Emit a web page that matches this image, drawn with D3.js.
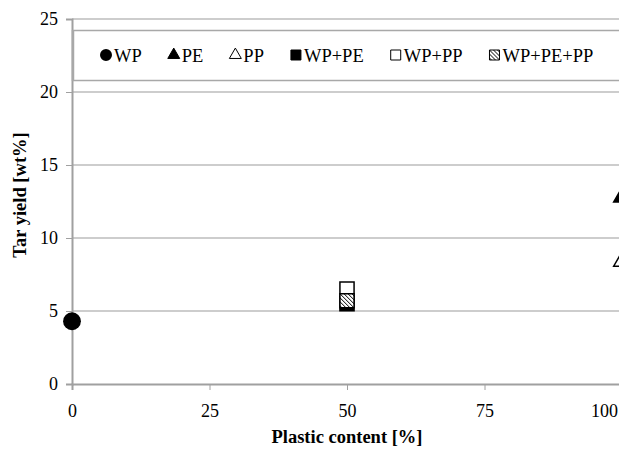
<!DOCTYPE html>
<html>
<head>
<meta charset="utf-8">
<script src="https://cdn.jsdelivr.net/npm/d3@7"></script>
<style>
  body { margin: 0; background: #fff; }
</style>
</head>
<body>
<div id="chart"></div>
<script>
// Data
const seriesNames = ["WP", "PE", "PP", "WP+PE", "WP+PP", "WP+PE+PP"];
const plasticContent = [0, 100, 100, 50, 50, 50];
const tarYield = [4.3, 12.8, 8.4, 5.5, 6.5, 5.7];
const xTicks = [0, 25, 50, 75, 100];
const yTicks = [0, 5, 10, 15, 20, 25];

const serif = "'Liberation Serif', 'Times New Roman', 'DejaVu Serif', serif";
const width = 619, height = 450;
const margin = { top: 19, right: -3, bottom: 66, left: 72 };
const innerW = width - margin.left - margin.right;
const innerH = height - margin.top - margin.bottom;

const svg = d3.select("#chart").append("svg")
    .attr("width", width)
    .attr("height", height)
    .style("font-family", serif);

// hatch pattern for WP+PE+PP
const defs = svg.append("defs");
defs.append("pattern")
    .attr("id", "hatch")
    .attr("patternUnits", "userSpaceOnUse")
    .attr("width", 4).attr("height", 4)
    .call(p => {
        p.append("rect").attr("width", 4).attr("height", 4).attr("fill", "#fff");
        p.append("path").attr("d", "M-1,-1 L5,5 M-1,3 L1,5 M3,-1 L5,1")
            .attr("stroke", "#000").attr("stroke-width", 1);
    });

const g = svg.append("g")
    .attr("transform", `translate(${margin.left},${margin.top})`);

const x = d3.scaleLinear().domain([0, 100]).range([0, innerW]);
const y = d3.scaleLinear().domain([0, 25]).range([innerH, 0]);

// gridlines
g.append("g")
    .selectAll("line")
    .data(yTicks.filter(d => d > 0))
    .enter().append("line")
    .attr("x1", 0).attr("x2", innerW)
    .attr("y1", d => y(d)).attr("y2", d => y(d))
    .attr("stroke", "#bdbdbd").attr("stroke-width", 1.5);

// axes
const yAxis = g.append("g")
    .call(d3.axisLeft(y).tickValues(yTicks).tickSize(6).tickPadding(8));
const xAxis = g.append("g")
    .attr("transform", `translate(0,${innerH})`)
    .call(d3.axisBottom(x).tickValues(xTicks).tickSize(6).tickPadding(14));
[xAxis, yAxis].forEach(a => {
    a.attr("font-family", serif);
    a.select(".domain").attr("stroke", "#a0a0a0").attr("stroke-width", 2);
    a.selectAll(".tick line").attr("stroke", "#a0a0a0").attr("stroke-width", 1);
    a.selectAll(".tick text")
        .style("font-family", serif)
        .attr("font-size", 18).attr("fill", "#000");
});
// last x label is pulled back inside the picture, as in the original
xAxis.selectAll(".tick text").filter(d => d === 100).attr("x", -18);

// axis titles
svg.append("text")
    .attr("x", margin.left + x(50))
    .attr("y", 443)
    .attr("text-anchor", "middle")
    .style("font-family", serif)
    .attr("font-size", 18.5).attr("font-weight", "bold")
    .text("Plastic content [%]");
svg.append("text")
    .attr("transform", `translate(26,195) rotate(-90)`)
    .attr("text-anchor", "middle")
    .style("font-family", serif)
    .attr("font-size", 18.5).attr("font-weight", "bold")
    .text("Tar yield [wt%]");

// marker styles per series
const shapes = [d3.symbolCircle, d3.symbolTriangle, d3.symbolTriangle,
                d3.symbolSquare, d3.symbolSquare, d3.symbolSquare];
const fills = ["#000", "#000", "#fff", "#000", "#fff", "url(#hatch)"];
const bigSize = [250, 120, 120, 200, 200, 200];
const smallSize = [113, 62, 62, 100, 100, 100];

// points
const points = seriesNames.map((name, i) => ({
    name, x: plasticContent[i], y: tarYield[i], i
}));
g.selectAll(".pt")
    .data(points)
    .enter().append("path")
    .attr("class", "pt")
    .attr("transform", d => `translate(${x(d.x)},${y(d.y)})`)
    .attr("d", d => d3.symbol().type(shapes[d.i]).size(bigSize[d.i])())
    .attr("fill", d => fills[d.i])
    .attr("stroke", "#000")
    .attr("stroke-width", d => d.i === 0 ? 0 : 1.5);

// legend
const legend = svg.append("g");
legend.append("rect")
    .attr("x", 73).attr("y", 30.5)
    .attr("width", 560).attr("height", 50)
    .attr("fill", "#fff")
    .attr("stroke", "#a8a8a8").attr("stroke-width", 1.5);
legend.append("line")
    .attr("x1", 73).attr("x2", 73).attr("y1", 30).attr("y2", 81)
    .attr("stroke", "#a8a8a8").attr("stroke-width", 2.5);

let lx = 100;
seriesNames.forEach((name, i) => {
    const item = legend.append("g");
    item.append("path")
        .attr("transform", `translate(${lx + 6},55)`)
        .attr("d", d3.symbol().type(shapes[i]).size(smallSize[i])())
        .attr("fill", fills[i])
        .attr("stroke", "#000")
        .attr("stroke-width", i === 0 ? 0 : 1);
    const t = item.append("text")
        .attr("x", lx + 14)
        .attr("y", 62)
        .style("font-family", serif)
        .attr("font-size", 18.5)
        .text(name);
    lx += 14 + t.node().getComputedTextLength() + 26;
});
</script>
</body>
</html>
